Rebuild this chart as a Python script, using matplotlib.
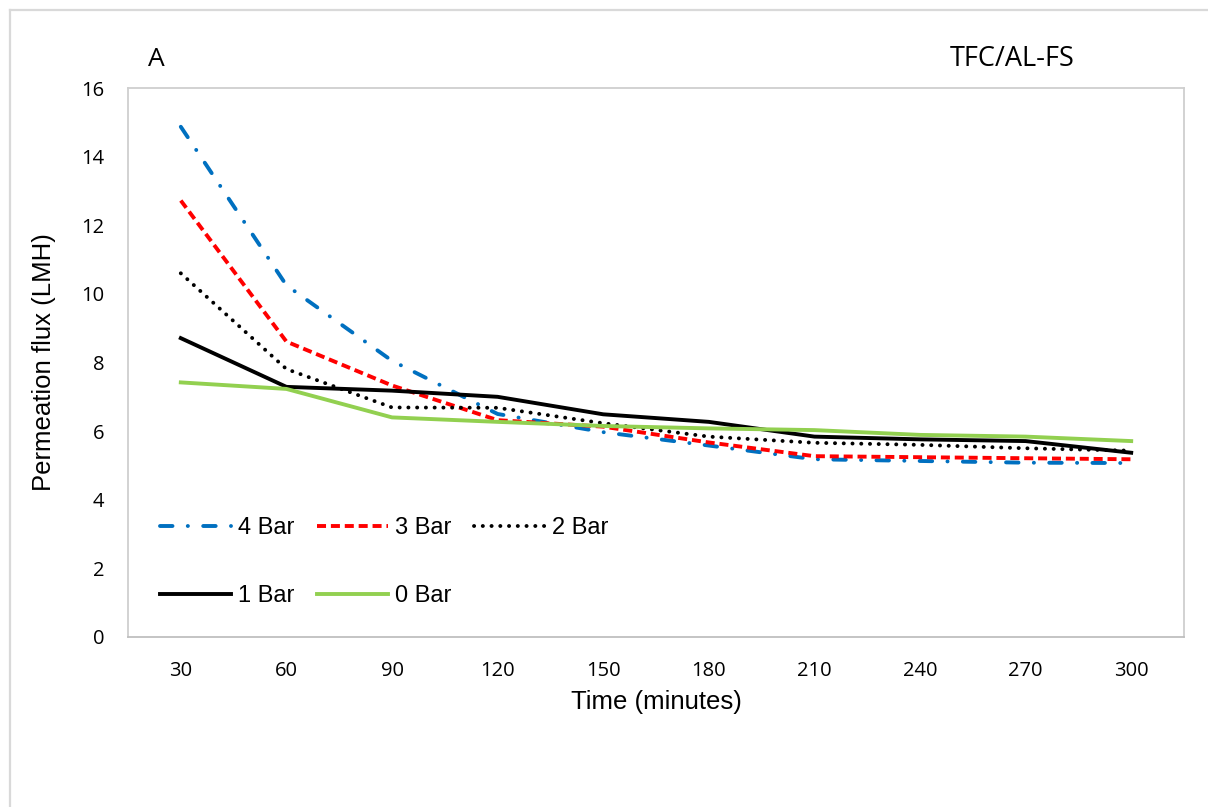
import matplotlib
matplotlib.use("Agg")
import matplotlib.pyplot as plt
from matplotlib.lines import Line2D

plt.rcParams['lines.scale_dashes'] = False

time_min = [30, 60, 90, 120, 150, 180, 210, 240, 270, 300]
bar4 = [14.87, 10.25, 8.05, 6.50, 5.97, 5.58, 5.18, 5.13, 5.08, 5.07]
bar3 = [12.72, 8.61, 7.33, 6.32, 6.13, 5.67, 5.27, 5.24, 5.21, 5.18]
bar2 = [10.60, 7.81, 6.69, 6.68, 6.23, 5.84, 5.66, 5.60, 5.50, 5.43]
bar1 = [8.71, 7.29, 7.18, 7.00, 6.49, 6.27, 5.84, 5.76, 5.71, 5.37]
bar0 = [7.42, 7.23, 6.40, 6.27, 6.15, 6.08, 6.03, 5.89, 5.84, 5.71]
yticks = [0, 2, 4, 6, 8, 10, 12, 14, 16]

W, H = 1208, 807
fig = plt.figure(figsize=(W / 100, H / 100), dpi=100)
ax = fig.add_axes([128 / W, 1 - 637 / H, (1184 - 128) / W, (637 - 88) / H])

pos = list(range(len(time_min)))
lw = 2.8
l4, = ax.plot(pos, bar4, color='#0070C0', lw=lw, dashes=[9, 11, 0.1, 11],
              dash_capstyle='round', label='4 Bar')
l3, = ax.plot(pos, bar3, color='#FF0000', lw=lw, dashes=[6.5, 3.5],
              dash_capstyle='butt', label='3 Bar')
l2, = ax.plot(pos, bar2, color='#000000', lw=lw, dashes=[0.1, 6.2],
              dash_capstyle='round', label='2 Bar')
l1, = ax.plot(pos, bar1, color='#000000', lw=lw, label='1 Bar')
l0, = ax.plot(pos, bar0, color='#92D050', lw=lw, label='0 Bar')

ax.set_xlim(-0.5, len(time_min) - 0.5)
ax.set_ylim(0, 16)
ax.set_xticks(pos)
ax.set_xticklabels([str(t) for t in time_min])
ax.set_yticks(yticks)
ax.set_yticklabels([str(v) for v in yticks])
ax.tick_params(length=0, labelsize=14.5, pad=17)
ax.tick_params(axis='y', pad=17)
for lab in ax.get_xticklabels() + ax.get_yticklabels():
    lab.set_fontfamily('Open Sans')
for s in ax.spines.values():
    s.set_color('#CFCFCF')
    s.set_linewidth(1.3)
ax.spines['bottom'].set_color('#BFBFBF')

ax.set_xlabel('Time (minutes)', fontsize=18.5, family='Liberation Sans', labelpad=7)
ax.set_ylabel('Permeation flux (LMH)', fontsize=18.5, family='Liberation Sans', labelpad=18)

handles = [l4, l1, l3, l0, l2]
leg = ax.legend(handles=handles, labels=[h.get_label() for h in handles], ncol=3,
                loc='lower left', bbox_to_anchor=(0.015, 0.024), frameon=False,
                prop={'family': 'Liberation Sans', 'size': 17},
                handlelength=3.0, handletextpad=0.3, columnspacing=0.95,
                labelspacing=1.95, borderpad=0.2)

fig.text(148 / W, 1 - 66 / H, 'A', fontsize=19, family='Open Sans', va='baseline')
fig.text(950 / W, 1 - 66 / H, 'TFC/AL-FS', fontsize=19.5, family='Open Sans', va='baseline')

# outer chart frame
fig.add_artist(Line2D([10 / W, 1.0], [1 - 10 / H, 1 - 10 / H], color='#D9D9D9', lw=1.6,
                      transform=fig.transFigure))
fig.add_artist(Line2D([10 / W, 10 / W], [0, 1 - 10 / H], color='#D9D9D9', lw=1.6,
                      transform=fig.transFigure))

fig.savefig('out.png', dpi=100)
